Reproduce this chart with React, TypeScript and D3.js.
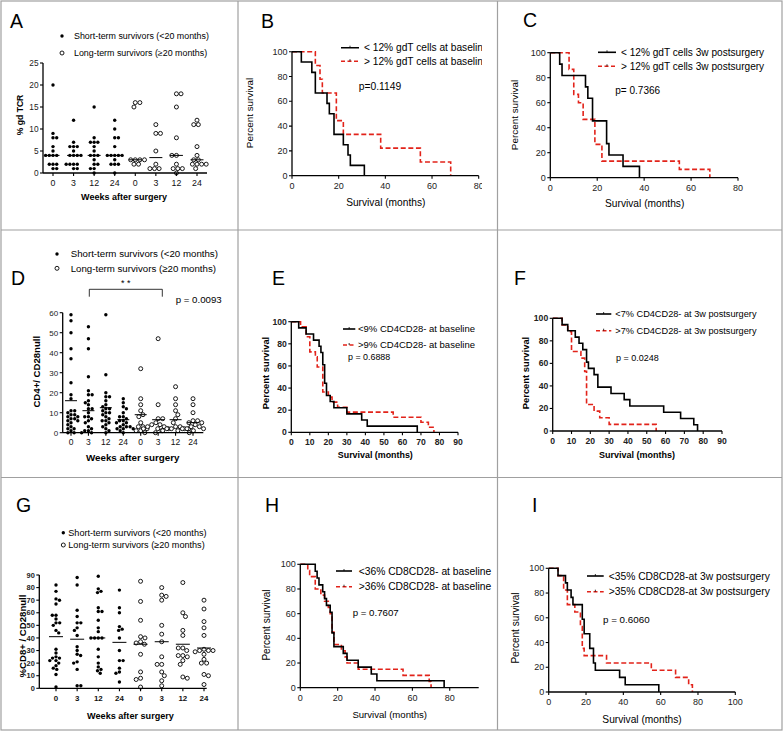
import * as d3 from "d3";

const FONT = "'Liberation Sans', Arial, Helvetica, sans-serif";
const RED = "#e2231a";
const FRAME = "#a0a0a0";

const WEEKS = ["0", "3", "12", "24", "0", "3", "12", "24"];
const SHORT_LABEL = "Short-term survivors (<20 months)";
const LONG_LABEL = "Long-term survivors (\u226520 months)";

// A: % gd TCR per week, short- and long-term survivors
const A_SHORT = [
  [20, 9, 8, 8, 6, 5, 4, 4, 4, 4, 2, 2, 2, 1, 1],
  [12, 7, 6, 6, 6, 5, 4, 4, 4, 4, 2, 2, 2, 2, 1, 1],
  [15, 8, 7, 7, 7, 6, 5, 4, 4, 4, 3, 2, 2, 1, 1, 0],
  [12, 10, 8, 8, 6, 4, 4, 4, 4, 4, 3, 2, 2, 2, 0],
];
const A_LONG = [
  [16, 16, 15, 3, 3, 3, 3, 2, 2],
  [11, 9, 9, 5, 2, 1, 1, 1],
  [18, 18, 15, 8, 4, 4, 2, 1, 1, 1, 0],
  [12, 11, 11, 6, 4, 3, 3, 2, 2, 2, 2, 1],
];
const A_CENTRE = [4, 4, 4, 4, 3, 3.5, 4, 3];

// D: CD4+/CD28null
const D_SHORT = [
  [59, 56, 50, 42, 37, 25, 19, 17, 11, 11, 10, 9, 9, 8, 8, 7, 7, 6, 6, 5, 4, 3, 2, 2, 1, 0, 0],
  [53, 47, 42, 28, 21, 19, 19, 16, 15, 14, 12, 12, 10, 8, 8, 7, 6, 5, 3, 2, 1, 1, 0, 0],
  [59, 29, 20, 18, 18, 16, 14, 13, 12, 12, 11, 10, 10, 9, 8, 7, 6, 6, 5, 4, 3, 2, 1, 0],
  [17, 15, 13, 12, 10, 8, 8, 7, 6, 6, 5, 5, 4, 3, 3, 3, 2, 2, 2, 1, 0],
];
const D_LONG = [
  [32, 17, 14, 11, 9, 8, 5, 3, 3, 2, 1, 1, 0],
  [47, 14, 7, 7, 5, 4, 4, 3, 3, 2, 2, 2, 1, 0],
  [23, 17, 14, 11, 9, 7, 5, 3, 3, 2, 2, 2, 2, 1, 1],
  [17, 14, 10, 6, 6, 5, 5, 4, 3, 3, 2, 2, 2, 1, 0],
];
const D_CENTRE = [16, 11, 12.5, 6.5, 9, 6.5, 6.5, 5];

// G: %CD8+/CD28null
const G_SHORT = [
  [82, 77, 71, 70, 67, 58, 58, 55, 52, 52, 50, 46, 44, 31, 28, 25, 24, 24, 22, 22, 20, 18, 16, 15, 11, 1],
  [88, 82, 62, 57, 52, 52, 48, 46, 42, 33, 30, 27, 26, 21, 20, 15, 2, 2],
  [89, 79, 77, 76, 64, 61, 61, 54, 48, 45, 40, 40, 40, 40, 31, 25, 20, 17, 15, 14, 12],
  [78, 64, 60, 49, 47, 46, 40, 30, 22, 22, 16, 13, 12, 5],
];
const G_LONG = [
  [85, 69, 54, 41, 40, 37, 36, 35, 27, 13, 8, 7, 1],
  [80, 74, 73, 70, 50, 43, 37, 25, 19, 19, 13, 10, 6, 2],
  [84, 60, 57, 46, 42, 32, 32, 30, 26, 26, 25, 22, 19, 9, 8],
  [70, 63, 53, 48, 42, 31, 30, 30, 30, 29, 27, 23, 20, 20, 11, 10, 3],
];
const G_CENTRE = [41, 39, 40, 36.5, 35, 37, 35, 32];

// Kaplan-Meier steps: [months, percent survival]
const B_LOW: [number, number][] = [[0, 100], [4, 91.7], [8.5, 83.3], [10, 66.7], [15, 58.3], [16, 50], [18, 33.3], [22, 25], [24, 16.7], [25, 8.3], [31, 0]];
const B_HIGH: [number, number][] = [[0, 100], [10, 88.9], [12, 77.8], [13, 66.7], [19, 44.4], [22, 33.3], [38, 22.2], [55, 11.1], [68, 0]];
const C_LOW: [number, number][] = [[0, 100], [4, 90.9], [5, 81.8], [15, 72.7], [16, 63.6], [18, 45.5], [24, 27.3], [25, 18.2], [31, 9.1], [38, 0]];
const C_HIGH: [number, number][] = [[0, 100], [8, 86.7], [10, 66.7], [12, 60], [14, 46.7], [19, 26.7], [22, 13.3], [55, 6.7], [68, 0]];
const E_LOW: [number, number][] = [[0, 100], [4, 94.4], [8, 88.9], [12, 83.3], [15, 77.8], [16, 72.2], [17, 61.1], [18, 44.4], [19, 33.3], [21, 27.8], [23, 22.2], [30, 16.7], [38, 11.1], [41, 5.6], [68, 0]];
const E_HIGH: [number, number][] = [[0, 100], [5, 95.5], [8, 86.4], [10, 72.7], [13, 68.2], [14, 59.1], [17, 36.4], [20, 31.8], [22, 27.3], [25, 22.7], [30, 18.2], [55, 13.6], [70, 9.1], [74, 4.5], [77, 0]];
const F_LOW: [number, number][] = [[0, 100], [5, 94.4], [8, 88.9], [12, 83.3], [14, 77.8], [16, 72.2], [18, 61.1], [19, 55.6], [22, 50], [24, 38.9], [31, 33.3], [38, 27.8], [41, 22.2], [59, 16.7], [68, 11.1], [75, 5.6], [77, 0]];
const F_HIGH: [number, number][] = [[0, 100], [5, 94.1], [8, 88.2], [10, 70.6], [15, 64.7], [17, 52.9], [18, 23.5], [22, 17.6], [25, 11.8], [30, 5.9], [55, 0]];
const H_LOW: [number, number][] = [[0, 100], [8, 94.4], [9, 88.9], [10, 83.3], [12, 77.8], [13, 72.2], [14, 66.7], [16, 61.1], [17, 44.4], [18, 33.3], [23, 27.8], [25, 22.2], [31, 16.7], [38, 11.1], [41, 5.6], [77, 0]];
const H_HIGH: [number, number][] = [[0, 100], [4, 95], [5, 90], [8, 80], [11, 75], [13, 70], [15, 65], [16, 60], [17, 45], [18, 35], [22, 30], [24, 25], [25, 20], [31, 15], [55, 10], [69, 5], [70, 0]];
const I_LOW: [number, number][] = [[0, 100], [5, 94.1], [9, 88.2], [10, 82.4], [12, 76.5], [13, 70.6], [18, 58.8], [19, 47.1], [22, 35.3], [24, 23.5], [25, 17.6], [38, 11.8], [41, 5.9], [59, 0]];
const I_HIGH: [number, number][] = [[0, 100], [5, 94.1], [8, 82.4], [10, 70.6], [14, 64.7], [17, 52.9], [18, 35.3], [19, 29.4], [31, 23.5], [55, 17.6], [68, 11.8], [75, 5.9], [77, 0]];

// beeswarm: place each point at the x closest to the centre that doesn't overlap
function swarm(values: number[], y: (v: number) => number, d: number) {
  const placed: { x: number; y: number }[] = [];
  let side = 1;
  [...values].sort((a, b) => b - a).forEach((v) => {
    const py = y(v);
    const blocks: [number, number][] = [];
    placed.forEach((p) => {
      const dy = Math.abs(p.y - py);
      if (dy < d) {
        const dx = Math.sqrt(d * d - dy * dy);
        blocks.push([p.x - dx, p.x + dx]);
      }
    });
    const cands = [0, ...blocks.flatMap((b) => [b[0], b[1]])].filter((c) =>
      blocks.every((b) => c <= b[0] + 1e-6 || c >= b[1] - 1e-6)
    );
    cands.sort((a, b) => Math.abs(a) - Math.abs(b) || side * (b - a));
    const x = cands[0];
    if (x !== 0) side = -Math.sign(x);
    placed.push({ x, y: py });
  });
  return placed;
}

interface ScatterProps {
  letter: string; letterX: number; letterY: number;
  legX: number; legY: number; legGap: number; legDx: number; legSize: number;
  axisX0: number; axisX1: number; firstCat: number; lastCat: number;
  yTop: number; yBottom: number; yMax: number; yStep: number;
  short: number[][]; long: number[][]; centre: number[];
  yLabel: string; yLabelX: number; yLabelY: number; yLabelSize: number;
  xLabelX: number; xLabelY: number; xLabelSize: number;
  tickBold: boolean; tickSize: number;
  lineW: number;
  children?: React.ReactNode;
}

function ScatterPanel(p: ScatterProps) {
  const y = d3.scaleLinear().domain([0, p.yMax]).range([p.yBottom, p.yTop]);
  const x = d3.scalePoint<number>().domain(d3.range(8)).range([p.firstCat, p.lastCat]);
  const groups = [...p.short, ...p.long];
  const yTicks = d3.range(0, p.yMax + 0.01, p.yStep);
  const tw = p.tickBold ? "bold" : "normal";
  return (
    <g fontFamily={FONT}>
      <text x={p.letterX} y={p.letterY} fontSize={19.5}>{p.letter}</text>
      <circle cx={p.legX} cy={p.legY} r={1.7} fill="#000" />
      <text x={p.legX + p.legDx} y={p.legY} dy="0.35em" fontSize={p.legSize}>{SHORT_LABEL}</text>
      <circle cx={p.legX} cy={p.legY + p.legGap} r={2} fill="#fff" stroke="#000" strokeWidth={0.9} />
      <text x={p.legX + p.legDx} y={p.legY + p.legGap} dy="0.35em" fontSize={p.legSize}>{LONG_LABEL}</text>

      {groups.map((vals, gi) => {
        const open = gi >= 4;
        const pts = swarm(vals, y, open ? 4.6 : 3.7);
        return (
          <g key={gi}>
            {pts.map((pt, i) =>
              open ? (
                <circle key={i} cx={x(gi)! + pt.x} cy={pt.y} r={2} fill="#fff" stroke="#000" strokeWidth={0.9} />
              ) : (
                <circle key={i} cx={x(gi)! + pt.x} cy={pt.y} r={1.7} fill="#000" />
              )
            )}
            <line x1={x(gi)! - p.lineW / 2} x2={x(gi)! + p.lineW / 2} y1={y(p.centre[gi])} y2={y(p.centre[gi])} stroke="#000" strokeWidth={1} />
          </g>
        );
      })}

      <line x1={p.axisX0} x2={p.axisX0} y1={p.yBottom} y2={p.yTop} stroke="#000" strokeWidth={1.3} />
      <line x1={p.axisX0} x2={p.axisX1} y1={p.yBottom} y2={p.yBottom} stroke="#000" strokeWidth={1.3} />
      {yTicks.map((t) => (
        <g key={t}>
          <line x1={p.axisX0 - 3} x2={p.axisX0} y1={y(t)} y2={y(t)} stroke="#000" strokeWidth={1.1} />
          <text x={p.axisX0 - 4.5} y={y(t)} dy="0.35em" textAnchor="end" fontSize={p.tickSize} fontWeight={tw} fill="#222">{t}</text>
        </g>
      ))}
      {WEEKS.map((w, i) => (
        <g key={i}>
          <line x1={x(i)} x2={x(i)} y1={p.yBottom} y2={p.yBottom + 3} stroke="#000" strokeWidth={1.1} />
          <text x={x(i)} y={p.yBottom + 12.5} textAnchor="middle" fontSize={p.tickSize + 0.5} fontWeight={tw} fill="#111">{w}</text>
        </g>
      ))}
      <text transform={`translate(${p.yLabelX},${p.yLabelY}) rotate(-90)`} textAnchor="middle" dy="0.35em" fontSize={p.yLabelSize} fontWeight="bold">{p.yLabel}</text>
      <text x={p.xLabelX} y={p.xLabelY} dy="0.35em" textAnchor="middle" fontSize={p.xLabelSize} fontWeight="bold">Weeks after surgery</text>
      {p.children}
    </g>
  );
}

interface KMProps {
  id: string;
  letter: string; letterX: number; letterY: number;
  x0: number; x1: number; xMax: number; xTicks: number[];
  yTop: number; yBottom: number;
  low: [number, number][]; high: [number, number][];
  legend: [string, string]; legX: number; legY: number; legGap: number; legLen: number; legDx: number; legSize: number;
  pText: string; pX: number; pY: number; pSize: number;
  xLabelX: number; xLabelY: number; yLabelX: number; yLabelY: number;
  bold: boolean; tickSize: number; xLabelSize: number; yLabelSize: number;
  clipRight?: number;
}

function KMPanel(p: KMProps) {
  const x = d3.scaleLinear().domain([0, p.xMax]).range([p.x0, p.x1]);
  const y = d3.scaleLinear().domain([0, 100]).range([p.yBottom, p.yTop]);
  const line = d3.line<[number, number]>().x((d) => x(d[0])).y((d) => y(d[1])).curve(d3.curveStepAfter);
  const yTicks = d3.range(0, 101, 20);
  const tw = p.bold ? "bold" : "normal";
  const clip = p.clipRight !== undefined;
  return (
    <g fontFamily={FONT}>
      {clip && (
        <clipPath id={p.id}>
          <rect x={p.x0 - 60} y={p.yTop - 60} width={p.clipRight! - p.x0 + 60} height={p.yBottom - p.yTop + 120} />
        </clipPath>
      )}
      <text x={p.letterX} y={p.letterY} fontSize={19.5}>{p.letter}</text>
      <g clipPath={clip ? `url(#${p.id})` : undefined}>
        <path d={line(p.high) ?? ""} fill="none" stroke={RED} strokeWidth={1.6} strokeDasharray="5,2.6" />
        <path d={line(p.low) ?? ""} fill="none" stroke="#000" strokeWidth={1.6} />

        <line x1={p.x0} x2={p.x0} y1={p.yBottom} y2={p.yTop} stroke="#000" strokeWidth={1.3} />
        <line x1={p.x0} x2={p.x1} y1={p.yBottom} y2={p.yBottom} stroke="#000" strokeWidth={1.3} />
        {yTicks.map((t) => (
          <g key={t}>
            <line x1={p.x0 - 3} x2={p.x0} y1={y(t)} y2={y(t)} stroke="#000" strokeWidth={1.1} />
            <text x={p.x0 - 4.5} y={y(t)} dy="0.35em" textAnchor="end" fontSize={p.tickSize} fontWeight={tw} fill="#222">{t}</text>
          </g>
        ))}
        {p.xTicks.map((t) => (
          <g key={t}>
            <line x1={x(t)} x2={x(t)} y1={p.yBottom} y2={p.yBottom + 3} stroke="#000" strokeWidth={1.1} />
            <text x={x(t)} y={p.yBottom + 13} textAnchor="middle" fontSize={p.tickSize} fontWeight={tw} fill="#222">{t}</text>
          </g>
        ))}

        <line x1={p.legX} x2={p.legX + p.legLen} y1={p.legY} y2={p.legY} stroke="#000" strokeWidth={1.6} />
        <line x1={p.legX + p.legLen / 2} x2={p.legX + p.legLen / 2} y1={p.legY - 2} y2={p.legY} stroke="#000" strokeWidth={0.8} />
        <text x={p.legX + p.legDx} y={p.legY} dy="0.35em" fontSize={p.legSize}>{p.legend[0]}</text>
        <line x1={p.legX} x2={p.legX + p.legLen} y1={p.legY + p.legGap} y2={p.legY + p.legGap} stroke={RED} strokeWidth={1.6} strokeDasharray="4,2.5" />
        <line x1={p.legX + p.legLen / 2} x2={p.legX + p.legLen / 2} y1={p.legY + p.legGap - 2} y2={p.legY + p.legGap} stroke="#000" strokeWidth={0.8} />
        <text x={p.legX + p.legDx} y={p.legY + p.legGap} dy="0.35em" fontSize={p.legSize}>{p.legend[1]}</text>
      </g>
      <text x={p.pX} y={p.pY} dy="0.35em" fontSize={p.pSize}>{p.pText}</text>
      <text x={p.xLabelX} y={p.xLabelY} dy="0.35em" textAnchor="middle" fontSize={p.xLabelSize} fontWeight={tw}>Survival (months)</text>
      <text transform={`translate(${p.yLabelX},${p.yLabelY}) rotate(-90)`} dy="0.35em" textAnchor="middle" fontSize={p.yLabelSize} fontWeight={tw}>Percent survival</text>
    </g>
  );
}

export default function App() {
  const colX = [1, 238, 497.5, 782];
  const rowY = [1, 230, 477.5, 730];
  return (
    <div style={{ position: "absolute", left: 0, top: 0 }}>
      <svg width={784} height={732} style={{ display: "block", background: "#fff" }}>
        <rect x={colX[0]} y={rowY[0]} width={colX[3] - colX[0]} height={rowY[3] - rowY[0]} fill="#fff" stroke={FRAME} strokeWidth={1.2} />
        {colX.slice(1, 3).map((cx) => (
          <line key={cx} x1={cx} x2={cx} y1={rowY[0]} y2={rowY[3]} stroke={FRAME} strokeWidth={1.2} />
        ))}
        {rowY.slice(1, 3).map((ry) => (
          <line key={ry} x1={colX[0]} x2={colX[3]} y1={ry} y2={ry} stroke={FRAME} strokeWidth={1.2} />
        ))}

        <ScatterPanel
          letter="A" letterX={10} letterY={28}
          legX={62} legY={36} legGap={17} legDx={12} legSize={8.9}
          axisX0={43} axisX1={207} firstCat={53} lastCat={197}
          yTop={63} yBottom={173} yMax={25} yStep={5}
          short={A_SHORT} long={A_LONG} centre={A_CENTRE}
          yLabel="% gd TCR" yLabelX={20} yLabelY={115} yLabelSize={8.6}
          xLabelX={124} xLabelY={197} xLabelSize={9}
          tickBold={false} tickSize={8.3} lineW={13}
        />
        <KMPanel
          id="clipB" letter="B" letterX={261} letterY={28}
          x0={292} x1={478.7} xMax={80} xTicks={[0, 20, 40, 60, 80]}
          yTop={51.7} yBottom={175.7} low={B_LOW} high={B_HIGH}
          legend={["< 12% gdT cells at baseline", "> 12% gdT cells at baseline"]}
          legX={341} legY={47.7} legGap={13.5} legLen={18} legDx={23} legSize={10.2}
          pText="p=0.1149" pX={358.7} pY={86.7} pSize={10.3}
          xLabelX={385.8} xLabelY={202} yLabelX={250} yLabelY={113}
          bold={false} tickSize={9} xLabelSize={10.2} yLabelSize={9.9} clipRight={482}
        />
        <KMPanel
          id="clipC" letter="C" letterX={523} letterY={27}
          x0={550.3} x1={738} xMax={80} xTicks={[0, 20, 40, 60, 80]}
          yTop={52.7} yBottom={177.7} low={C_LOW} high={C_HIGH}
          legend={["< 12% gdT cells 3w postsurgery", "> 12% gdT cells 3w postsurgery"]}
          legX={598} legY={52.3} legGap={14} legLen={18} legDx={23} legSize={10.1}
          pText="p= 0.7366" pX={615.3} pY={90} pSize={10}
          xLabelX={644.7} xLabelY={203.3} yLabelX={515} yLabelY={115}
          bold={false} tickSize={9} xLabelSize={10.2} yLabelSize={9.9}
        />

        <ScatterPanel
          letter="D" letterX={11} letterY={285}
          legX={57} legY={254} legGap={14.3} legDx={13.7} legSize={9.7}
          axisX0={62.7} axisX1={203.3} firstCat={71} lastCat={193}
          yTop={312.7} yBottom={432.7} yMax={60} yStep={10}
          short={D_SHORT} long={D_LONG} centre={D_CENTRE}
          yLabel="CD4+/ CD28null" yLabelX={36.7} yLabelY={371.7} yLabelSize={9.6}
          xLabelX={132.7} xLabelY={457.3} xLabelSize={9.8}
          tickBold={false} tickSize={8} lineW={12}
        >
          <path d="M89.3,296.7V289.3H162.3V296.7" fill="none" stroke="#000" strokeWidth={0.8} />
          <text x={125.8} y={283.3} dy="0.35em" textAnchor="middle" fontSize={9} fontFamily={FONT}>* *</text>
          <text x={175.7} y={299.3} dy="0.35em" fontSize={9.7} fontFamily={FONT}>p = 0.0093</text>
        </ScatterPanel>
        <KMPanel
          id="clipE" letter="E" letterX={272} letterY={285}
          x0={291.3} x1={458} xMax={90} xTicks={d3.range(0, 91, 10)}
          yTop={321.7} yBottom={432.3} low={E_LOW} high={E_HIGH}
          legend={["<9% CD4CD28- at baseline", ">9% CD4CD28- at baseline"]}
          legX={343} legY={329} legGap={16} legLen={12.3} legDx={15} legSize={9.5}
          pText="p = 0.6888" pX={348} pY={357.3} pSize={8.9}
          xLabelX={375.3} xLabelY={455} yLabelX={266} yLabelY={373}
          bold={true} tickSize={8.6} xLabelSize={8.9} yLabelSize={9.4}
        />
        <KMPanel
          id="clipF" letter="F" letterX={514} letterY={285}
          x0={552.7} x1={722} xMax={90} xTicks={d3.range(0, 91, 10)}
          yTop={318.3} yBottom={431} low={F_LOW} high={F_HIGH}
          legend={["<7% CD4CD28- at 3w postsurgery", ">7% CD4CD28- at 3w postsurgery"]}
          legX={596} legY={314} legGap={16.7} legLen={15.3} legDx={19.3} legSize={9.2}
          pText="p = 0.0248" pX={616} pY={358.3} pSize={9}
          xLabelX={637} xLabelY={455} yLabelX={526} yLabelY={373}
          bold={true} tickSize={8.6} xLabelSize={9} yLabelSize={9.4}
        />

        <ScatterPanel
          letter="G" letterX={16} letterY={511.7}
          legX={63.3} legY={532.7} legGap={12.3} legDx={5} legSize={9.1}
          axisX0={39.3} axisX1={206.7} firstCat={56} lastCat={204}
          yTop={575} yBottom={688.3} yMax={90} yStep={10}
          short={G_SHORT} long={G_LONG} centre={G_CENTRE}
          yLabel="%CD8+ / CD28null" yLabelX={22.7} yLabelY={636} yLabelSize={9.6}
          xLabelX={130.5} xLabelY={716} xLabelSize={9.1}
          tickBold={true} tickSize={7.4} lineW={14}
        />
        <KMPanel
          id="clipH" letter="H" letterX={265} letterY={511.7}
          x0={300.3} x1={478.7} xMax={95.5} xTicks={[0, 20, 40, 60, 80]}
          yTop={564.3} yBottom={687.7} low={H_LOW} high={H_HIGH}
          legend={["<36% CD8CD28- at baseline", ">36% CD8CD28- at baseline"]}
          legX={336} legY={571} legGap={15.7} legLen={16} legDx={22.7} legSize={10.3}
          pText="p = 0.7607" pX={352.7} pY={612.7} pSize={9.7}
          xLabelX={389.7} xLabelY={715} yLabelX={266} yLabelY={625}
          bold={false} tickSize={9} xLabelSize={9.6} yLabelSize={10}
        />
        <KMPanel
          id="clipI" letter="I" letterX={532} letterY={511.7}
          x0={548.7} x1={735.3} xMax={100} xTicks={d3.range(0, 101, 20)}
          yTop={568.3} yBottom={692} low={I_LOW} high={I_HIGH}
          legend={["<35% CD8CD28-at 3w postsurgery", ">35% CD8CD28-at 3w postsurgery"]}
          legX={587} legY={576} legGap={15.7} legLen={16.7} legDx={21.7} legSize={10.3}
          pText="p = 0.6060" pX={603} pY={620} pSize={9.8}
          xLabelX={642} xLabelY={719.3} yLabelX={515.3} yLabelY={628}
          bold={false} tickSize={9} xLabelSize={10.2} yLabelSize={10}
        />
      </svg>
    </div>
  );
}
